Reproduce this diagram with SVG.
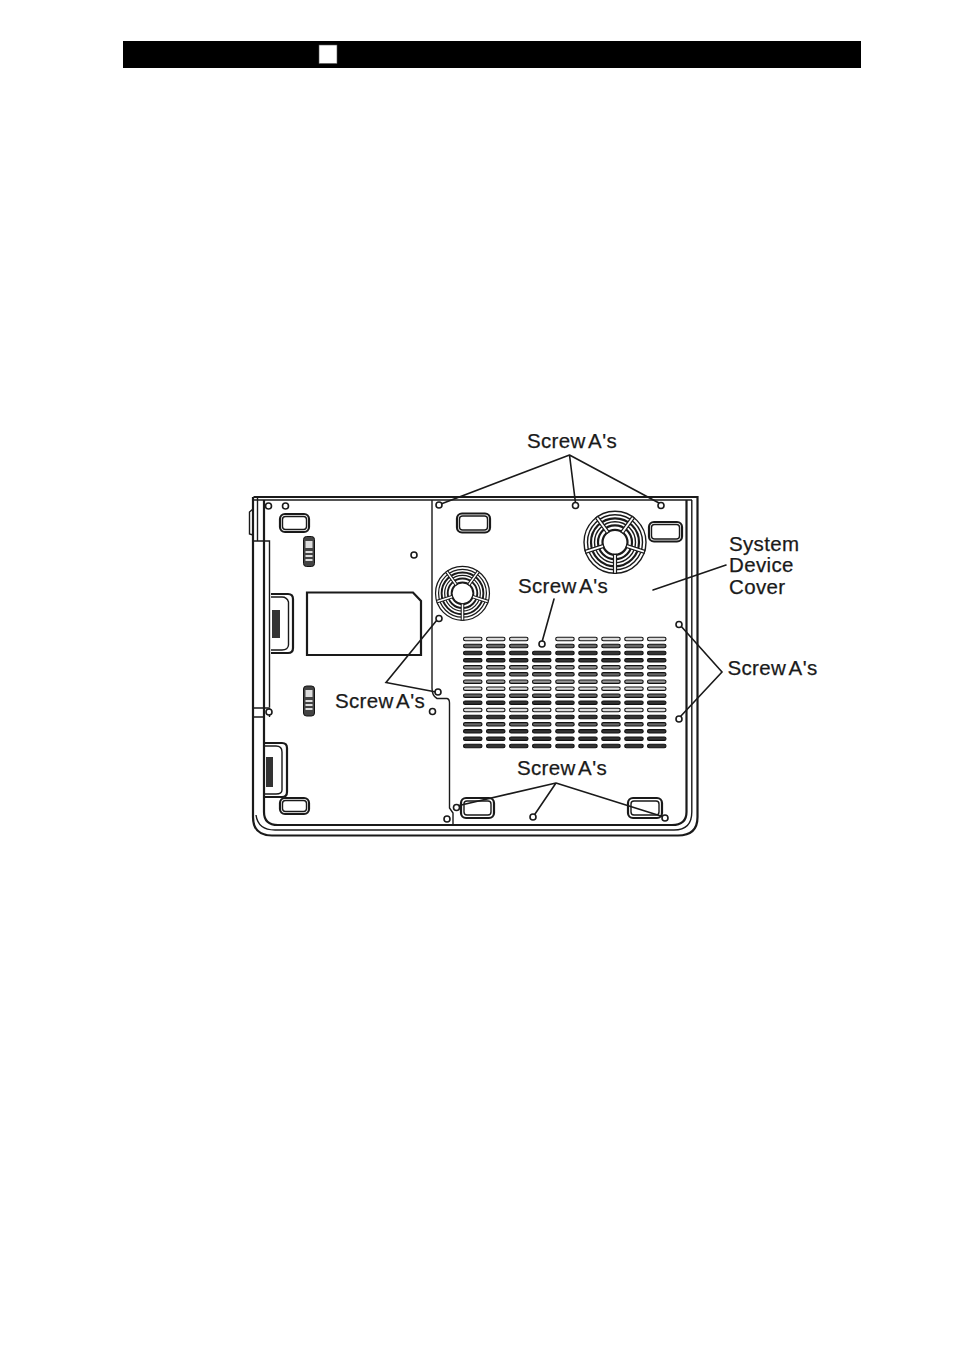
<svg xmlns="http://www.w3.org/2000/svg" width="954" height="1355" viewBox="0 0 954 1355">
<style>
.l{fill:none;stroke:#1a1a1a;stroke-width:1.4}
.t{fill:none;stroke:#1a1a1a;stroke-width:2.2}
.c{fill:none;stroke:#1a1a1a;stroke-width:1.6;stroke-linecap:round}
.s{fill:#fff;stroke:#1a1a1a;stroke-width:1.6}
.v{stroke:#111;stroke-width:1.1}
.lab{font-family:"Liberation Sans",Arial,sans-serif;font-size:20.5px;letter-spacing:.35px;word-spacing:-2.5px;fill:#1a1a1a;stroke:#1a1a1a;stroke-width:.25}
</style>
<defs>
<g id="row">
<rect class="v" x="463.500" y="-1.700" width="18.500" height="3.400" rx="1.700"/>
<rect class="v" x="486.500" y="-1.700" width="18.500" height="3.400" rx="1.700"/>
<rect class="v" x="509.500" y="-1.700" width="18.500" height="3.400" rx="1.700"/>
<rect class="v" x="555.700" y="-1.700" width="18.500" height="3.400" rx="1.700"/>
<rect class="v" x="578.700" y="-1.700" width="18.500" height="3.400" rx="1.700"/>
<rect class="v" x="601.700" y="-1.700" width="18.500" height="3.400" rx="1.700"/>
<rect class="v" x="624.700" y="-1.700" width="18.500" height="3.400" rx="1.700"/>
<rect class="v" x="647.500" y="-1.700" width="18.500" height="3.400" rx="1.700"/>
</g>
<g id="mid"><rect class="v" x="532.500" y="-1.700" width="18.500" height="3.400" rx="1.700"/></g>
<g id="fan">
<circle class="l" r="31"/><circle class="l" r="27.500"/><circle class="t" r="24"/><circle class="l" r="20.500"/><circle class="t" r="17"/><circle class="t" r="12.500"/>
<g fill="#fff" stroke="#1a1a1a" stroke-width="1.200">
<path d="M-1.500,12V31H1.500V12Z"/>
<path d="M-1.500,12V31H1.500V12Z" transform="rotate(72)"/>
<path d="M-1.500,12V31H1.500V12Z" transform="rotate(144)"/>
<path d="M-1.500,12V31H1.500V12Z" transform="rotate(216)"/>
<path d="M-1.500,12V31H1.500V12Z" transform="rotate(288)"/>
</g>
</g>
</defs>
<rect width="954" height="1355" fill="#fff"/>
<g id="header">
<rect x="123" y="41" width="738" height="27" fill="#000"/>
<rect x="319" y="45" width="18" height="18.500" fill="#fff" stroke="#555" stroke-width="0.600"/>
</g>
<g id="body">
<path class="t" d="M253.500,497H697.500V817Q697.500,835.500 678,835.500H272Q253,835.500 253,817V497"/>
<path class="l" d="M691.800,500V812Q691.800,830 674,830H275Q258,830 256,815"/>
<path class="l" d="M253,500H692"/>
<path class="l" d="M257.500,497V541"/>
<path class="t" d="M264,500V812Q264,825 278,825H672Q686.500,825 686.500,812V500"/>
<path class="l" d="M253,509L249.500,512V534L253,535"/>
<path class="l" d="M253,541H269.500V707"/>
<path class="l" d="M253,708H269.500V717M253,717H264"/>
<path class="l" d="M432,500V688Q432,696 437,698.500H447Q449.500,699 449.500,703V808L453,813V826"/>
<path class="t" d="M271,594H288Q293,594 293,599V648Q293,653 288,653H271"/>
<path class="l" d="M271,597H282Q287,597 288.500,602V645Q288,650 282,650H271"/>
<path d="M272,610H280V638H272Z" fill="#333"/>
<path class="t" d="M265,743H282Q287,743 287,748V792Q287,797 282,797H265"/>
<path class="l" d="M265,746H276Q282,746 282,752V790Q282,794 276,794H265"/>
<path d="M266,757H273V787H266Z" fill="#333"/>
<path class="t" d="M307,592.500H413L421,601V655H307Z"/>
<g id="feet-left">
<rect class="t" x="280" y="514" width="29" height="18" rx="5"/>
<rect class="l" x="282.500" y="516.500" width="24" height="13" rx="3"/>
<rect class="t" x="280" y="798" width="29" height="16" rx="5"/>
<rect class="l" x="282.500" y="800.500" width="24" height="11" rx="3"/>
</g>
<g id="feet-right">
<rect class="t" x="457" y="513.500" width="33" height="19" rx="5"/>
<rect class="l" x="459.500" y="516" width="28" height="14" rx="3"/>
<rect class="t" x="649" y="522" width="33" height="19.500" rx="5"/>
<rect class="l" x="651.500" y="524.500" width="28" height="14.500" rx="3"/>
<rect class="t" x="461" y="798" width="33" height="20" rx="5"/>
<rect class="l" x="464" y="801" width="27" height="14" rx="3"/>
<rect class="t" x="628" y="798" width="34" height="20" rx="5"/>
<rect class="l" x="631" y="801" width="28" height="14" rx="3"/>
</g>
<g id="sliders">
<rect x="303.500" y="536.500" width="11" height="30" rx="3" fill="#444" stroke="#111"/>
<path d="M305.500,541H312.500V548H305.500ZM305.500,551H312.500V553H305.500ZM305.500,555H312.500V557H305.500ZM305.500,559H312.500V561H305.500Z" fill="#ddd"/>
<rect x="303.500" y="686" width="11" height="30" rx="3" fill="#444" stroke="#111"/>
<path d="M305.500,690H312.500V697H305.500ZM305.500,700H312.500V702H305.500ZM305.500,704H312.500V706H305.500ZM305.500,708H312.500V710H305.500Z" fill="#ddd"/>
</g>
</g>
<g id="fans">
<use href="#fan" transform="translate(615,542.300)"/>
<use href="#fan" transform="translate(462.500,593.300) scale(.87)"/>
</g>
<g id="vents">
<g fill="#ddd"><use href="#row" y="639"/><use href="#row" y="688.700"/><use href="#row" y="710"/><use href="#mid" y="688.700"/><use href="#mid" y="710"/></g>
<g fill="#999"><use href="#row" y="667.300"/><use href="#row" y="681.700"/><use href="#mid" y="667.300"/><use href="#mid" y="681.700"/></g>
<g fill="#666"><use href="#row" y="646"/><use href="#row" y="674.300"/><use href="#row" y="695.700"/><use href="#row" y="724.300"/><use href="#mid" y="674.300"/><use href="#mid" y="695.700"/><use href="#mid" y="724.300"/></g>
<g fill="#333"><use href="#row" y="653"/><use href="#row" y="660.300"/><use href="#row" y="702.700"/><use href="#row" y="717"/><use href="#row" y="731.300"/><use href="#row" y="738.700"/><use href="#row" y="746"/>
<use href="#mid" y="653"/><use href="#mid" y="660.300"/><use href="#mid" y="702.700"/><use href="#mid" y="717"/><use href="#mid" y="731.300"/><use href="#mid" y="738.700"/><use href="#mid" y="746"/></g>
</g>
<g id="connectors">
<path class="c" d="M569.500,455L441,504M569.500,455L575.500,503M569.500,455L659,503"/>
<path class="c" d="M726,565L653,590"/>
<path class="c" d="M554,599L542,642"/>
<path class="c" d="M680,625L722,672L680,717"/>
<path class="c" d="M437,620L386,682.500L436,692"/>
<path class="c" d="M556,783L457,806M556,783L535,814M556,783L664,817"/>
</g>
<g id="screws">
<circle class="s" cx="268.500" cy="506" r="3"/><circle class="s" cx="285.500" cy="506" r="3"/><circle class="s" cx="414" cy="555" r="3"/>
<circle class="s" cx="439" cy="505" r="3"/><circle class="s" cx="575.500" cy="505.500" r="3"/><circle class="s" cx="661" cy="505.500" r="3"/>
<circle class="s" cx="439" cy="618.500" r="3"/><circle class="s" cx="438" cy="692" r="3"/><circle class="s" cx="432.500" cy="711.500" r="3"/>
<circle class="s" cx="269" cy="712" r="3"/><circle class="s" cx="542" cy="644" r="3"/><circle class="s" cx="679" cy="624.500" r="3"/>
<circle class="s" cx="679" cy="719" r="3"/><circle class="s" cx="447" cy="819" r="3"/><circle class="s" cx="456.500" cy="807.500" r="3"/>
<circle class="s" cx="533" cy="817" r="3"/><circle class="s" cx="665" cy="818" r="3"/>
</g>
<g id="labels">
<text class="lab" x="527" y="447.500">Screw A's</text>
<text class="lab" x="518" y="593">Screw A's</text>
<text class="lab" x="727.500" y="674.500">Screw A's</text>
<text class="lab" x="335" y="708">Screw A's</text>
<text class="lab" x="517" y="774.500">Screw A's</text>
<text class="lab" x="729" y="550.500">System</text>
<text class="lab" x="729" y="572">Device</text>
<text class="lab" x="729" y="593.500">Cover</text>
</g>
</svg>
